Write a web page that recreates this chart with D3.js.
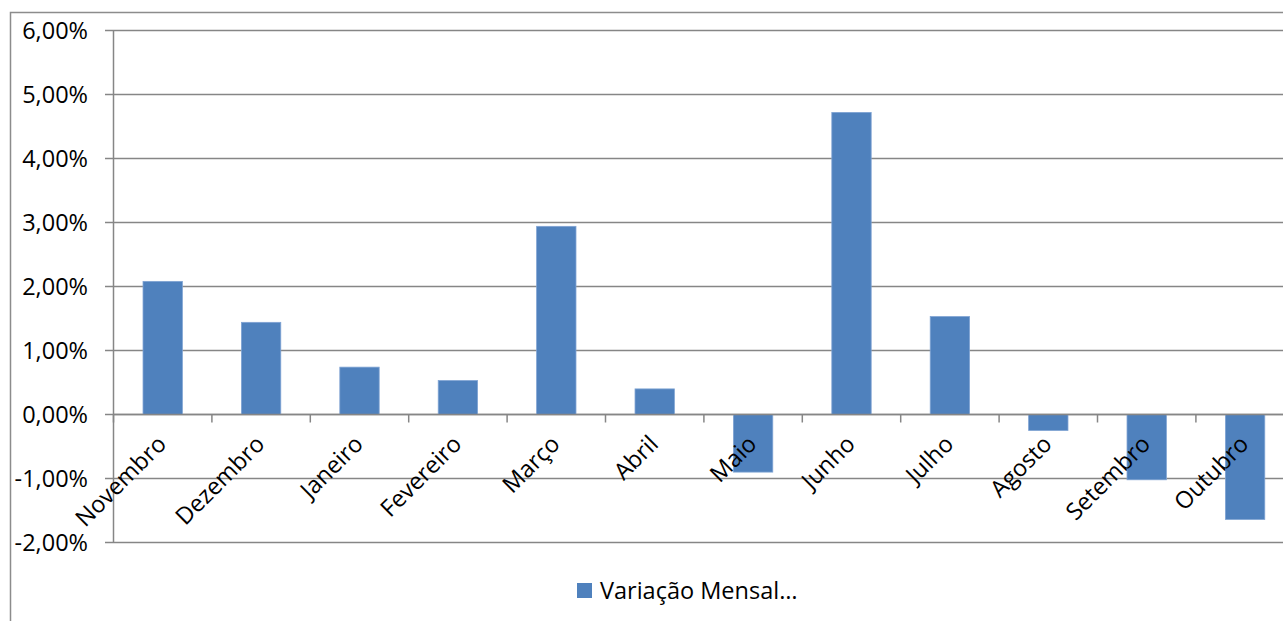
<!DOCTYPE html>
<html>
<head>
<meta charset="utf-8">
<script src="https://cdn.jsdelivr.net/npm/d3@7"></script>
<style>
  body { margin: 0; background: #fff; }
  svg { display: block; font-family: "Open Sans", sans-serif; }
</style>
</head>
<body>
<svg id="chart" width="1283" height="621"></svg>
<script>
const months = ["Novembro", "Dezembro", "Janeiro", "Fevereiro", "Março", "Abril",
                "Maio", "Junho", "Julho", "Agosto", "Setembro", "Outubro"];
const variacao = [2.08, 1.44, 0.74, 0.53, 2.94, 0.40, -0.90, 4.72, 1.53, -0.25, -1.02, -1.64];
const yTicks = [-2, -1, 0, 1, 2, 3, 4, 5, 6];
const legendLabel = "Variação Mensal…";

const svg = d3.select("#chart");
const gridColor = "#868686";
const barColor = "#4F81BD";
const fontSize = 23.5;

// outer chart frame (runs off right/bottom edges)
svg.append("rect")
    .attr("x", 10.5).attr("y", 12.5)
    .attr("width", 1400).attr("height", 700)
    .attr("fill", "none")
    .attr("stroke", "#8c8c8c")
    .attr("stroke-width", 1.5);

const x = d3.scaleBand()
    .domain(months)
    .range([113.5, 113.5 + 98.4 * 12])
    .paddingInner(0.6)
    .paddingOuter(0.3);

const y = d3.scaleLinear()
    .domain([-2, 6])
    .range([542.5, 30.5]);

// gridlines
svg.append("g")
    .selectAll("line")
    .data(yTicks)
    .enter().append("line")
    .attr("x1", 105)
    .attr("x2", 1290)
    .attr("y1", d => y(d))
    .attr("y2", d => y(d))
    .attr("stroke", gridColor)
    .attr("stroke-width", 1.5);

// y labels
const fmt = v => v.toFixed(2).replace(".", ",") + "%";
svg.append("g")
    .selectAll("text")
    .data(yTicks)
    .enter().append("text")
    .attr("x", 88)
    .attr("y", d => y(d) + 8.5)
    .attr("text-anchor", "end")
    .attr("font-size", fontSize)
    .attr("fill", "#000")
    .text(fmt);

// y axis line
svg.append("line")
    .attr("x1", 113.5).attr("x2", 113.5)
    .attr("y1", y(6)).attr("y2", y(-2))
    .attr("stroke", gridColor)
    .attr("stroke-width", 1.5);

// bars
svg.append("g")
    .selectAll("rect")
    .data(variacao)
    .enter().append("rect")
    .attr("x", (d, i) => x(months[i]))
    .attr("width", x.bandwidth())
    .attr("y", d => y(Math.max(0, d)))
    .attr("height", d => Math.abs(y(d) - y(0)))
    .attr("fill", barColor)
    .attr("stroke", "#7fa3d3")
    .attr("stroke-width", 0.8);

// x axis line at zero
svg.append("line")
    .attr("x1", 113.5).attr("x2", 1290)
    .attr("y1", y(0)).attr("y2", y(0))
    .attr("stroke", gridColor)
    .attr("stroke-width", 1.5);

// x ticks at category boundaries
const step = x.step();
svg.append("g")
    .selectAll("line")
    .data(d3.range(months.length + 1))
    .enter().append("line")
    .attr("x1", i => 113.5 + i * step)
    .attr("x2", i => 113.5 + i * step)
    .attr("y1", y(0))
    .attr("y2", y(0) + 8)
    .attr("stroke", gridColor)
    .attr("stroke-width", 1.5);

// x labels rotated
svg.append("g")
    .selectAll("text")
    .data(months)
    .enter().append("text")
    .attr("transform", d => `translate(${x(d) + x.bandwidth() / 2 + 5},${y(0) + 31}) rotate(-45)`)
    .attr("text-anchor", "end")
    .attr("font-size", fontSize)
    .attr("fill", "#000")
    .text(d => d);

// legend
const legend = svg.append("g");
legend.append("rect")
    .attr("x", 577).attr("y", 583)
    .attr("width", 15).attr("height", 15)
    .attr("fill", barColor);
legend.append("text")
    .attr("x", 600).attr("y", 599)
    .attr("font-size", fontSize)
    .attr("fill", "#000")
    .text(legendLabel);
</script>
</body>
</html>
